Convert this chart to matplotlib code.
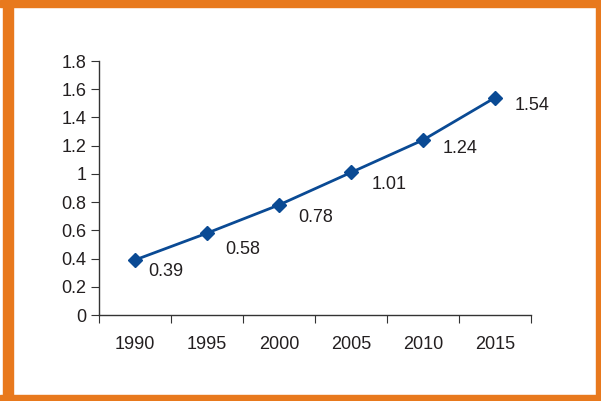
import matplotlib
matplotlib.use("Agg")
import matplotlib.pyplot as plt
from matplotlib.patches import Rectangle

years = ["1990", "1995", "2000", "2005", "2010", "2015"]
values = [0.39, 0.58, 0.78, 1.01, 1.24, 1.54]
y_ticks = [0, 0.2, 0.4, 0.6, 0.8, 1, 1.2, 1.4, 1.6, 1.8]
# label offsets (pixels right, pixels down) from each point
label_dx = [13, 18, 19, 21, 20, 20]
label_dy = [12, 16, 13, 12, 8, 8]

plt.rcParams['font.family'] = ['Liberation Sans', 'DejaVu Sans']
W, H = 601, 401
fig = plt.figure(figsize=(W/100, H/100), dpi=100)
fig.patch.set_facecolor('white')

orange = '#e8791d'
# border
fig.patches.append(Rectangle((3/W, 0), 10/W, 1, transform=fig.transFigure, color=orange, zorder=0))
fig.patches.append(Rectangle((0, 1-7/H), 1, 7/H, transform=fig.transFigure, color=orange, zorder=0))
fig.patches.append(Rectangle((596/W, 0), 5/W, 1, transform=fig.transFigure, color=orange, zorder=0))
fig.patches.append(Rectangle((0, 0), 1, 6/H, transform=fig.transFigure, color=orange, zorder=0))

x0, x1 = 99, 531
y0, y1 = 315, 61
ax = fig.add_axes([x0/W, 1-y0/H, (x1-x0)/W, (y0-y1)/H])
ax.set_facecolor('none')
xs = list(range(len(years)))
ax.plot(xs, values, color='#0a4a94', lw=2, marker='D', ms=7.5, zorder=3)
for x, v, dx, dy in zip(xs, values, label_dx, label_dy):
    ax.annotate(f"{v:.2f}", (x, v), xytext=(dx*0.72, -dy*0.72), textcoords='offset points',
                fontsize=13, color='#231f20', va='center', ha='left')

ax.set_xlim(-0.5, len(years)-0.5)
ax.set_ylim(0, 1.8)
ax.set_yticks(y_ticks)
ax.set_yticklabels([f"{t:g}" for t in y_ticks])
ax.set_xticks([i - 0.5 for i in range(len(years)+1)], minor=False)
ax.set_xticklabels([])
ax.set_xticks(xs, minor=True)
ax.set_xticklabels(years, minor=True)
ax.tick_params(axis='x', which='major', length=6, direction='out', color='#333333')
ax.tick_params(axis='x', which='minor', length=0, pad=15, labelsize=13, labelcolor='#231f20')
ax.tick_params(axis='y', length=6, direction='out', labelsize=13, labelcolor='#231f20', color='#333333', pad=3)
for s in ['top', 'right']:
    ax.spines[s].set_visible(False)
for s in ['left', 'bottom']:
    ax.spines[s].set_color('#333333')
    ax.spines[s].set_linewidth(1)

fig.savefig('out.png', dpi=100, facecolor='white')
